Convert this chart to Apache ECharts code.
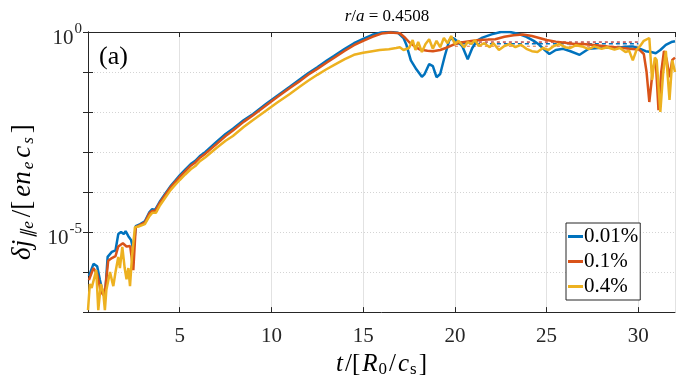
<!DOCTYPE html>
<html>
<head>
<meta charset="utf-8">
<script src="https://cdn.jsdelivr.net/npm/echarts@6/dist/echarts.min.js"></script>
<style>html,body{margin:0;padding:0;background:#fff}#c{width:695px;height:383px}</style>
</head>
<body>
<div id="c"></div>
<script>
// ---- data ----
const legendNames = ['0.01%', '0.1%', '0.4%'];
const xTicks = [5, 10, 15, 20, 25, 30];
const yTickLabels = { '0': '0', '-5': '-5' };

const tBlue = [0.05,0.3,0.5,0.65,0.8,0.95,1.07,1.3,1.5,1.65,1.8,1.95,2.05,2.2,2.35,2.48,2.6,2.85,3.1,3.35,3.5,3.65,3.9,4.2,4.5,4.75,5.0,5.3,5.6,5.85,6.1,6.4,7.0,7.5,7.9,8.5,9.0,9.7,10.3,11.0,11.5,12.0,12.5,13.0,13.4,14.0,14.5,15.0,15.5,16.0,16.5,16.9,17.2,17.35,17.6,17.9,18.2,18.35,18.6,18.8,19.0,19.2,19.45,19.7,19.9,20.1,20.4,20.7,20.95,21.2,21.5,22.0,22.5,23.0,23.5,23.9,24.3,24.6,24.9,25.15,25.5,25.9,26.3,26.8,27.3,27.8,28.3,28.8,29.3,29.7,30.1,30.4,30.7,30.95,31.2,31.5,31.8,32];
const vBlue = [7.9e-7,1.6e-6,1.4e-6,6.3e-7,3.2e-7,3.5e-7,2.4e-6,3.2e-6,3.5e-6,8.9e-6,1.0e-5,8.9e-6,1.05e-5,7.9e-6,6.3e-6,3.5e-6,1.41e-5,1.58e-5,1.86e-5,3.16e-5,3.72e-5,3.55e-5,5.62e-5,8.91e-5,1.41e-4,1.91e-4,2.63e-4,3.63e-4,5.01e-4,6.03e-4,7.94e-4,1.0e-3,1.78e-3,2.82e-3,3.8e-3,6.31e-3,8.91e-3,1.58e-2,2.51e-2,4.27e-2,6.31e-2,9.33e-2,0.132,0.191,0.251,0.38,0.525,0.676,0.851,0.977,1.0,0.955,0.708,0.49,0.195,0.117,0.0759,0.0891,0.158,0.141,0.0741,0.0891,0.251,0.631,0.708,0.603,0.447,0.209,0.398,0.603,0.724,0.871,1.0,1.0,0.891,0.759,0.603,0.479,0.355,0.282,0.355,0.38,0.331,0.269,0.38,0.398,0.417,0.398,0.427,0.437,0.38,0.331,0.316,0.295,0.355,0.479,0.562,0.589];

const tOrange = [0.05,0.3,0.5,0.7,0.9,1.1,1.3,1.5,1.65,1.9,2.1,2.3,2.47,2.6,2.85,3.1,3.35,3.5,3.65,3.9,4.2,4.5,4.75,5.0,5.3,5.6,5.85,6.1,6.4,7.0,7.5,7.9,8.5,9.0,9.7,10.3,11.0,11.5,12.0,12.5,13.0,13.4,14.0,14.5,15.0,15.5,16.0,16.5,17.0,17.3,17.5,17.8,18.1,18.5,18.8,19.2,19.5,19.9,20.25,20.8,21.3,21.8,22.2,22.7,23.2,23.7,24.2,24.6,25.0,25.5,26.0,26.5,27.0,27.7,28.3,29.0,29.5,30.05,30.3,30.45,30.6,30.8,30.95,31.1,31.25,31.4,31.55,31.7,31.85,32];
const vOrange = [6.3e-7,1.26e-6,8.9e-7,3.2e-7,2.5e-7,1.91e-6,2.24e-6,2.51e-6,4.37e-6,5.25e-6,4.37e-6,4.47e-6,1.12e-6,1.32e-5,1.51e-5,1.74e-5,2.95e-5,3.39e-5,3.31e-5,5.25e-5,8.32e-5,1.32e-4,1.78e-4,2.4e-4,3.31e-4,4.57e-4,5.5e-4,7.24e-4,9.12e-4,1.58e-3,2.51e-3,3.47e-3,5.75e-3,8.32e-3,1.45e-2,2.34e-2,3.98e-2,5.75e-2,8.51e-2,0.12,0.17,0.224,0.339,0.468,0.603,0.759,0.912,0.977,0.933,0.708,0.562,0.437,0.363,0.339,0.331,0.355,0.398,0.479,0.537,0.589,0.631,0.646,0.661,0.759,0.832,0.871,0.794,0.708,0.631,0.575,0.537,0.501,0.501,0.468,0.437,0.407,0.38,0.363,0.282,0.1,0.0178,0.126,0.195,0.0112,0.1,0.339,0.2,0.0741,0.2,0.229];

const tYellow = [0,0.1,0.2,0.3,0.45,0.56,0.7,0.83,0.92,1.0,1.2,1.3,1.38,1.5,1.56,1.65,1.74,1.87,2.0,2.1,2.2,2.29,2.4,2.56,2.75,3.1,3.35,3.5,3.7,3.9,4.2,4.5,4.75,5.0,5.3,5.6,5.85,6.1,6.4,7.0,7.5,7.9,8.5,9.0,9.7,10.3,11.0,11.5,12.0,12.5,13.0,13.5,14.0,14.5,15.0,15.5,15.9,16.4,16.8,17.0,17.2,17.5,17.7,17.85,18.0,18.2,18.4,18.6,18.8,19.0,19.2,19.4,19.6,19.8,20.0,20.2,20.5,20.7,20.9,21.1,21.3,21.6,21.9,22.1,22.4,22.7,23.0,23.3,23.6,23.9,24.2,24.5,24.8,25.1,25.4,25.7,26.0,26.3,26.6,27.0,27.3,27.6,28.0,28.3,28.7,29.0,29.3,29.5,29.7,29.9,30.1,30.3,30.6,30.75,30.9,31.0,31.2,31.35,31.5,31.7,31.85,32];
const vYellow = [1.12e-7,5.0e-7,4.0e-7,4.47e-7,1.12e-6,1.12e-7,5.0e-7,3.16e-7,1.12e-7,3.55e-7,1.0e-6,6.31e-7,4.47e-7,1.0e-6,1.12e-6,2.4e-6,1.26e-6,4.27e-6,1.26e-6,6.61e-7,1.26e-6,4.47e-7,2.51e-6,1.32e-5,1.38e-5,1.58e-5,2.51e-5,3.02e-5,3.02e-5,4.47e-5,7.08e-5,1.12e-4,1.51e-4,2.0e-4,2.75e-4,3.72e-4,4.47e-4,5.89e-4,7.41e-4,1.26e-3,1.91e-3,2.51e-3,4.27e-3,6.31e-3,1.07e-2,1.7e-2,2.82e-2,4.17e-2,6.03e-2,8.51e-2,0.117,0.158,0.209,0.269,0.302,0.331,0.355,0.372,0.398,0.417,0.355,0.398,0.631,0.355,0.562,0.316,0.501,0.661,0.38,0.603,0.417,0.708,0.525,0.794,0.501,0.603,0.417,0.562,0.501,0.631,0.447,0.525,0.417,0.525,0.355,0.447,0.501,0.417,0.479,0.38,0.331,0.316,0.398,0.355,0.447,0.501,0.417,0.398,0.468,0.427,0.372,0.437,0.38,0.417,0.363,0.398,0.316,0.339,0.195,0.355,0.447,0.603,0.708,0.0631,0.229,0.2,0.01,0.0891,0.339,0.02,0.195,0.1];

// time-averaged saturation levels (dashed lines), t from 20 to 30
const meanT = [20, 30];
const meanBlue = 0.51;
const meanOrange = 0.56;
const meanYellow = 0.44;

const colors = ['#0072BD', '#D95319', '#EDB120'];
const FONT = 'Liberation Serif';

function pairs(t, v) { return t.map((x, i) => [x, v[i]]); }
function flat(t, y) { return t.map(x => [x, y]); }

const chart = echarts.init(document.getElementById('c'), null, { renderer: 'canvas' });

const axisLineStyle = { color: '#262626', width: 1 };

const option = {
  animation: false,
  backgroundColor: '#fff',
  title: {
    text: '{i|r}{n|/}{i|a}{n| = 0.4508}',
    left: 382, top: 3, textAlign: 'center',
    textStyle: { fontWeight: 'normal', rich: {
      i: { fontFamily: FONT, fontStyle: 'italic', fontWeight: 'normal', fontSize: 17, color: '#000' },
      n: { fontFamily: FONT, fontWeight: 'normal', fontSize: 17, color: '#000' }
    } }
  },
  grid: { left: 88, right: 20, top: 32, bottom: 67 },
  legend: {
    orient: 'vertical', left: 566, top: 223,
    data: legendNames,
    icon: 'rect', itemWidth: 15, itemHeight: 3, itemGap: 2,
    padding: [2, 2, 2, 2],
    backgroundColor: '#fff', borderColor: '#262626', borderWidth: 1, borderRadius: 0,
    textStyle: { fontFamily: FONT, fontSize: 21, color: '#000', padding: [0, 0, 0, -4], lineHeight: 23 }
  },
  graphic: [{
    type: 'text', left: 99, top: 44, z: 10,
    style: { text: '(a)', font: '26px "Liberation Serif"', fill: '#000' }
  }],
  xAxis: [{
    type: 'value', min: 0, max: 32, interval: 5,
    name: '{i|t}{n|/[}{i|R}{s|0}{n|/}{i|c}{s|s}{n|]}',
    nameLocation: 'middle', nameGap: 35,
    nameTextStyle: { rich: {
      i: { fontFamily: FONT, fontStyle: 'italic', fontSize: 25, color: '#000', padding: [0, 1, 0, 1] },
      n: { fontFamily: FONT, fontSize: 25, color: '#000', padding: [0, 1, 0, 1] },
      s: { fontFamily: FONT, fontSize: 17, color: '#000', padding: [10, 1, 0, 0] }
    } },
    axisLine: { show: true, lineStyle: axisLineStyle },
    axisTick: { show: true, inside: true, length: 5, lineStyle: axisLineStyle },
    axisLabel: {
      fontFamily: FONT, fontSize: 21, color: '#262626', margin: 14,
      showMinLabel: false, showMaxLabel: false,
      formatter: v => xTicks.indexOf(v) >= 0 ? String(v) : ''
    },
    splitLine: { show: true, lineStyle: { color: '#e2e2e2', width: 1, type: 'solid' } }
  }, {
    type: 'value', min: 0, max: 32, interval: 5, position: 'top',
    axisLine: { show: true, lineStyle: axisLineStyle },
    axisTick: { show: true, inside: true, length: 5, lineStyle: axisLineStyle },
    axisLabel: { show: false }, splitLine: { show: false }
  }],
  yAxis: [{
    type: 'log', logBase: 10, min: 1e-7, max: 1, interval: 1,
    name: '{i|δj}{ss|∥e}{n|/[}{i|en}{ss|e}{i|c}{ss|s}{n|]}',
    nameLocation: 'middle', nameGap: 50, nameRotate: 90,
    nameTextStyle: { padding: [0, 40, 0, 0], rich: {
      i: { fontFamily: FONT, fontStyle: 'italic', fontSize: 27, color: '#000', padding: [0, 2, 0, 2] },
      n: { fontFamily: FONT, fontSize: 27, color: '#000', padding: [0, 2, 0, 2] },
      ss: { fontFamily: FONT, fontStyle: 'italic', fontSize: 17, color: '#000', padding: [11, 2, 0, 0] }
    } },
    axisLine: { show: true, lineStyle: axisLineStyle },
    axisTick: { show: true, inside: true, length: 5, lineStyle: axisLineStyle },
    axisLabel: {
      color: '#262626', margin: 6,
      formatter: v => {
        const e = String(Math.round(Math.log10(v)));
        return yTickLabels[e] !== undefined ? '{b|10}{s|' + yTickLabels[e] + '}' : '';
      },
      rich: {
        b: { fontFamily: FONT, fontSize: 21, color: '#262626', padding: [13, 0, 0, 0] },
        s: { fontFamily: FONT, fontSize: 15, color: '#262626', padding: [0, 0, 6, 1] }
      }
    },
    splitLine: { show: true, lineStyle: { color: '#d4d4d4', width: 1, type: [1, 2] } }
  }, {
    type: 'log', logBase: 10, min: 1e-7, max: 1, interval: 1, position: 'right',
    axisLine: { show: true, lineStyle: axisLineStyle },
    axisTick: { show: true, inside: true, length: 5, lineStyle: axisLineStyle },
    axisLabel: { show: false }, splitLine: { show: false }
  }],
  series: [
    {
      name: legendNames[0], type: 'line', data: pairs(tBlue, vBlue), showSymbol: false,
      lineStyle: { color: colors[0], width: 2.5 }, itemStyle: { color: colors[0] }, z: 3,
      markLine: {
        silent: true, symbol: 'none', z: 1,
        label: { show: false },
        lineStyle: { color: '#e2e2e2', width: 1, type: 'solid' },
        data: [{ yAxis: 1e-5 }]
      }
    },
    {
      name: legendNames[1], type: 'line', data: pairs(tOrange, vOrange), showSymbol: false,
      lineStyle: { color: colors[1], width: 2.5 }, itemStyle: { color: colors[1] }, z: 4
    },
    {
      name: legendNames[2], type: 'line', data: pairs(tYellow, vYellow), showSymbol: false,
      lineStyle: { color: colors[2], width: 2.5 }, itemStyle: { color: colors[2] }, z: 5
    },
    {
      name: 'mean1', type: 'line', data: flat(meanT, meanBlue), showSymbol: false, z: 2,
      lineStyle: { color: colors[0], width: 1.5, type: [4, 3] }
    },
    {
      name: 'mean2', type: 'line', data: flat(meanT, meanOrange), showSymbol: false, z: 2,
      lineStyle: { color: '#c8666a', width: 1.8, type: [3, 3] }
    },
    {
      name: 'mean3', type: 'line', data: flat(meanT, meanYellow), showSymbol: false, z: 2,
      lineStyle: { color: colors[1], width: 1.2, type: [3, 3], opacity: 0.7 }
    }
  ]
};
chart.setOption(option);
</script>
</body>
</html>
